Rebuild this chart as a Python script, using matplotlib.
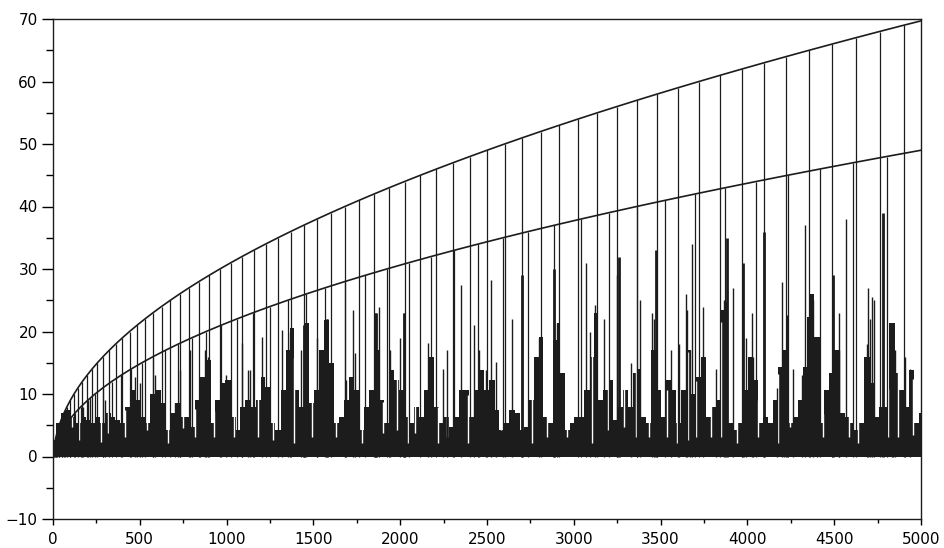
import numpy as np
import matplotlib
matplotlib.use("Agg")
import matplotlib.pyplot as plt
from matplotlib.ticker import MultipleLocator

# spikes that reach the upper curve
sq_n = [1, 4, 9, 16, 25, 36, 49, 64, 81, 100, 121, 144, 169, 196, 225, 256, 289, 324,
        361, 400, 441, 484, 529, 576, 625, 676, 729, 784, 841, 900, 961, 1024, 1089,
        1156, 1225, 1296, 1369, 1444, 1521, 1600, 1681, 1764, 1849, 1936, 2025, 2116,
        2209, 2304, 2401, 2500, 2601, 2704, 2809, 2916, 3025, 3136, 3249, 3364, 3481,
        3600, 3721, 3844, 3969, 4096, 4225, 4356, 4489, 4624, 4761, 4900]
sq_h = [0, 1, 2, 3, 4, 5, 6, 7, 8, 9, 10, 11, 12, 13, 14, 15, 16, 17, 18, 19, 20, 21,
        22, 23, 24, 25, 26, 27, 28, 29, 30, 31, 32, 33, 34, 35, 36, 37, 38, 39, 40, 41,
        42, 43, 44, 45, 46, 47, 48, 49, 50, 51, 52, 53, 54, 55, 56, 57, 58, 59, 60, 61,
        62, 63, 64, 65, 66, 67, 68, 69]

# spikes that reach the lower curve
dsq_n = [2, 8, 18, 32, 50, 72, 98, 128, 162, 200, 242, 288, 338, 392, 450, 512, 578,
         648, 722, 800, 882, 968, 1058, 1152, 1250, 1352, 1458, 1568, 1682, 1800, 1922,
         2048, 2178, 2312, 2450, 2592, 2738, 2888, 3042, 3200, 3362, 3528, 3698, 3872,
         4050, 4232, 4418, 4608, 4802]
dsq_h = [0, 1, 2, 3, 4, 5, 6, 7, 8, 9, 10, 11, 12, 13, 14, 15, 16, 17, 18, 19, 20, 21,
         22, 23, 24, 25, 26, 27, 28, 29, 30, 31, 32, 33, 34, 35, 36, 37, 38, 39, 40, 41,
         42, 43, 44, 45, 46, 47, 48]

# curve values at the right edge
upper_end = 69.7
lower_end = 49.0

# black mass near the baseline (column tops)
mass_n = [0, 29, 58, 86, 115, 144, 173, 202, 230, 259, 288, 317, 346, 374, 403, 432,
          461, 490, 518, 547, 576, 605, 634, 662, 691, 720, 749, 778, 806, 835, 864, 893,
          922, 950, 979, 1008, 1037, 1066, 1094, 1123, 1152, 1181, 1210, 1238, 1267,
          1296, 1325, 1354, 1373, 1402, 1430, 1459, 1488, 1517, 1546, 1574, 1603, 1632,
          1661, 1690, 1718, 1747, 1776, 1805, 1834, 1862, 1891, 1920, 1949, 1978, 2006,
          2035, 2064, 2093, 2122, 2150, 2179, 2208, 2237, 2266, 2294, 2323, 2352, 2381,
          2410, 2438, 2467, 2496, 2529, 2558, 2586, 2615, 2644, 2673, 2702, 2730, 2759,
          2788, 2807, 2836, 2865, 2894, 2907, 2932, 2961, 2990, 3018, 3047, 3076, 3105,
          3124, 3153, 3182, 3210, 3239, 3268, 3297, 3326, 3354, 3374, 3402, 3431, 3460,
          3489, 3518, 3546, 3575, 3604, 3633, 3662, 3690, 3719, 3748, 3777, 3806, 3834,
          3854, 3873, 3902, 3930, 3959, 3988, 4017, 4046, 4074, 4103, 4132, 4161, 4190,
          4218, 4247, 4276, 4305, 4334, 4353, 4372, 4401, 4430, 4458, 4487, 4516, 4545,
          4574, 4602, 4631, 4660, 4689, 4718, 4746, 4775, 4804, 4833, 4862, 4890, 4919,
          4948, 4977, 5000]
mass_v = [2.6, 5.3, 6.9, 7.5, 6.4, 5.3, 6.4, 5.8, 5.3, 6.4, 5.3, 6.9, 6.4, 5.8, 5.3,
          8.0, 10.6, 9.0, 6.4, 5.3, 10.0, 10.6, 8.5, 4.2, 6.9, 8.5, 6.4, 6.4, 4.8, 9.0,
          12.8, 15.4, 5.3, 9.0, 11.7, 12.2, 6.4, 4.2, 8.0, 9.0, 8.0, 9.0, 12.8, 11.2, 5.3,
          4.2, 10.6, 17.0, 20.5, 10.6, 8.0, 21.3, 8.5, 10.6, 17.0, 21.8, 14.9, 5.3, 6.4,
          9.0, 12.8, 10.6, 4.2, 8.0, 10.6, 17.0, 9.0, 5.3, 13.8, 12.2, 10.6, 6.4, 5.3, 8.0,
          6.4, 10.6, 16.0, 8.0, 5.3, 6.4, 4.8, 6.4, 10.6, 10.6, 6.4, 10.6, 13.8, 10.6,
          12.2, 7.4, 4.2, 5.3, 7.4, 6.9, 4.2, 4.8, 9.0, 16.0, 19.2, 6.4, 5.3, 18.6, 21.3,
          13.3, 4.2, 5.3, 6.4, 6.4, 10.6, 16.0, 22.9, 9.0, 10.6, 12.2, 5.8, 8.0, 10.6, 8.0,
          13.3, 14.0, 6.4, 5.3, 17.0, 10.6, 6.4, 12.2, 10.6, 5.3, 10.6, 17.0, 10.0, 12.8,
          16.0, 6.4, 8.0, 9.0, 23.4, 24.8, 5.3, 4.2, 5.3, 10.6, 16.0, 12.2, 5.3, 6.4, 5.3,
          9.0, 14.4, 17.0, 5.3, 6.4, 9.0, 14.4, 22.4, 26.0, 19.2, 5.3, 10.6, 13.3, 17.0,
          6.9, 6.4, 5.3, 4.2, 5.3, 16.0, 11.7, 6.4, 8.0, 8.0, 21.3, 13.3, 10.6, 8.0, 13.8,
          5.3, 6.9]

# narrow white gaps inside the mass
dip_n = [111, 148, 278, 319, 415, 540, 664, 751, 818, 930, 1044, 1179, 1265, 1390,
         1490, 1630, 1778, 1901, 1982, 2045, 2084, 2219, 2268, 2393, 2581, 2757, 2844,
         2963, 3103, 3198, 3288, 3357, 3435, 3534, 3592, 3656, 3702, 3790, 3850, 3939,
         4063, 4178, 4245, 4433, 4587, 4639, 4808, 4870, 4956]
dip_v = [4.7, 2.6, 2.3, 3.7, 3.1, 4.2, 2.1, 4.5, 3.1, 3.1, 3.1, 3.1, 2.6, 2.1, 3.1,
         3.1, 2.1, 3.7, 4.2, 2.1, 3.7, 2.1, 3.1, 2.1, 4.2, 2.1, 3.1, 3.1, 2.1, 4.2, 4.7,
         3.1, 3.1, 3.1, 2.1, 2.6, 3.1, 3.1, 3.1, 2.1, 3.1, 2.1, 4.7, 3.1, 3.1, 2.1, 3.1,
         3.1, 3.5]

# thin single spikes above the mass
spike_n = [175, 213, 300, 470, 501, 586, 703, 730, 789, 847, 876, 893, 998, 1087, 1125,
           1133, 1202, 1321, 1366, 1430, 1443, 1519, 1580, 1690, 1726, 1738, 1853, 1861,
           1878, 1939, 2000, 2021, 2162, 2248, 2271, 2350, 2427, 2454, 2496, 2523, 2554,
           2644, 2798, 2903, 3070, 3093, 3124, 3175, 3247, 3328, 3383, 3450, 3461, 3562,
           3606, 3646, 3652, 3669, 3679, 3744, 3821, 3867, 3919, 3994, 4026, 4034, 4168,
           4201, 4209, 4228, 4264, 4312, 4331, 4362, 4380, 4401, 4526, 4530, 4566, 4689,
           4697, 4706, 4716, 4727, 4831, 4841, 4850, 4908, 4937]
spike_v = [7.9, 9.3, 9.0, 12.8, 11.7, 13.0, 8.5, 13.8, 17.0, 11.5, 17.0, 16.0, 13.0,
           18.1, 13.8, 13.8, 19.1, 20.2, 20.0, 17.0, 21.0, 19.0, 22.0, 12.2, 23.4, 16.5,
           22.9, 23.0, 24.0, 17.0, 19.0, 23.0, 18.1, 14.0, 17.0, 27.4, 21.0, 17.0, 13.8,
           28.2, 15.2, 22.0, 19.0, 21.3, 31.0, 20.0, 24.2, 22.0, 29.0, 15.0, 25.0, 23.0,
           22.0, 17.0, 18.0, 26.0, 23.4, 17.0, 34.0, 24.0, 14.0, 25.0, 27.0, 19.0, 23.0,
           16.0, 11.0, 28.0, 17.0, 22.6, 14.0, 13.0, 37.0, 26.0, 25.0, 19.0, 22.9, 17.0,
           38.0, 18.0, 27.0, 22.0, 25.5, 25.0, 21.0, 20.0, 17.0, 16.0, 14.0]

# wider black spikes
thick_n = [1446, 1580, 1861, 2021, 2700, 2886, 3260, 3473, 3885, 3973, 4098, 4495, 4783]
thick_v = [21.0, 22.0, 23.0, 23.0, 29.0, 30.0, 32.0, 33.0, 35.0, 31.0, 36.0, 29.0, 39.0]

ink = "#1c1c1c"

fig = plt.figure(figsize=(9.44, 5.48), dpi=100)
ax = fig.add_axes([53 / 944, 29 / 548, 868 / 944, 500 / 548])

ax.fill_between(mass_n, 0, mass_v, step="mid", color=ink, linewidth=0, zorder=1)
dip_top = np.interp(dip_n, mass_n, mass_v)
ax.vlines(dip_n, dip_v, dip_top + 1, color="white", linewidth=1.0, zorder=2)
ax.vlines(spike_n, 0, spike_v, color=ink, linewidth=1.0, zorder=3)
ax.vlines(thick_n, 0, thick_v, color=ink, linewidth=2.0, zorder=3)
ax.vlines(sq_n, 0, sq_h, color=ink, linewidth=0.9, zorder=3)
ax.vlines(dsq_n, 0, dsq_h, color=ink, linewidth=0.9, zorder=3)

ax.plot(sq_n + [5000], sq_h + [upper_end], color=ink, linewidth=1.2, zorder=4)
ax.plot(dsq_n + [5000], dsq_h + [lower_end], color=ink, linewidth=1.2, zorder=4)

ax.set_xlim(0, 5000)
ax.set_ylim(-10, 70)
ax.xaxis.set_major_locator(MultipleLocator(500))
ax.xaxis.set_minor_locator(MultipleLocator(250))
ax.yaxis.set_major_locator(MultipleLocator(10))
ax.yaxis.set_minor_locator(MultipleLocator(5))
ax.tick_params(axis="y", which="major", length=8, width=1, direction="out",
               labelsize=11, pad=3)
ax.tick_params(axis="y", which="minor", length=5, width=1, direction="out")
ax.tick_params(axis="x", which="major", length=4, width=1, direction="out",
               labelsize=11, pad=5)
ax.tick_params(axis="x", which="minor", length=3, width=1, direction="out")
for s in ax.spines.values():
    s.set_linewidth(1.0)
    s.set_color(ink)

fig.savefig("out.png", dpi=100)
